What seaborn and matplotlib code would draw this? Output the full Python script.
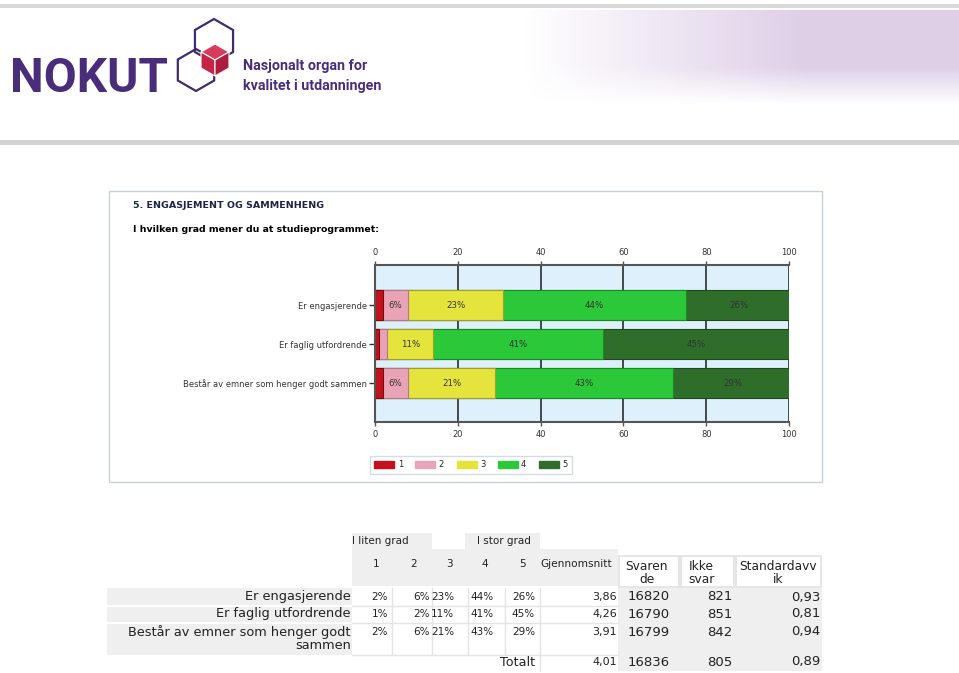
import textwrap
import numpy as np
import pandas as pd
import matplotlib
matplotlib.use("Agg")
import matplotlib.pyplot as plt
from matplotlib.patches import Rectangle, Polygon, Patch
import seaborn as sns

# Dados do gráfico
items = ["Er engasjerende", "Er faglig utfordrende", "Består av emner som henger godt sammen"]
levels = ["1", "2", "3", "4", "5"]
pct_1 = [2, 1, 2]
pct_2 = [6, 2, 6]
pct_3 = [23, 11, 21]
pct_4 = [44, 41, 43]
pct_5 = [26, 45, 29]
mean = [3.86, 4.26, 3.91]
n_svar = [16820, 16790, 16799]
n_ikke = [821, 851, 842]
std = [0.93, 0.81, 0.94]
tot_mean, tot_svar, tot_ikke, tot_std = 4.01, 16836, 805, 0.89
x_ticks = [0, 20, 40, 60, 80, 100]

bar_colors = ["#C4121C", "#E9A3B6", "#E4E43C", "#2BC83A", "#2E6E2A"]
edge_colors = ["#7A0A10", "#B57888", "#A0A024", "#1A8A25", "#1C4A1A"]
purple = "#4A2D7A"

W, H = 959, 673
sns.set_style("white")
plt.rcParams["font.family"] = ["DejaVu Sans"]

fig = plt.figure(figsize=(W / 100, H / 100), dpi=100)
bg = fig.add_axes([0, 0, 1, 1])
bg.set_xlim(0, W)
bg.set_ylim(H, 0)
bg.axis("off")
renderer = fig.canvas.get_renderer()


def fit_width(t, width_px):
    w = t.get_window_extent(renderer).width
    if w > width_px:
        t.set_fontsize(t.get_fontsize() * width_px / w)


def rect(x0, y0, x1, y1, **kw):
    bg.add_patch(Rectangle((x0, y0), x1 - x0, y1 - y0, **kw))


# --- cabeçalho da página ---
rect(0, 4, W, 8, color="#D9D9D9", lw=0)
rect(0, 140, W, 145, color="#D3D3D3", lw=0)
gx = np.linspace(0, 1, 200)
gy = np.linspace(0, 1, 60)
alpha = np.clip(gx[None, :] * 1.1 - 0.1, 0, 0.65) * np.clip((1 - gy[:, None]) * 2.5, 0, 1)
grad = np.zeros((60, 200, 4))
grad[..., 0], grad[..., 1], grad[..., 2] = 0.80, 0.71, 0.86
grad[..., 3] = alpha
bg.imshow(grad, extent=(480, W, 105, 10), aspect="auto", zorder=0)


def hexagon(cx, cy, r):
    ang = np.deg2rad(90 + 60 * np.arange(6))
    return np.column_stack([cx + r * np.cos(ang), cy - r * np.sin(ang)])


for cx, cy, r in [(214, 41, 22), (196, 70, 21)]:
    bg.add_patch(Polygon(hexagon(cx, cy, r), closed=True, fill=False, edgecolor="#3F2C6B", lw=1.6))
c = np.array([215, 60])
top, ur, lr, bot, ll, ul = c + [0, -16], c + [14, -8], c + [14, 8], c + [0, 16], c + [-14, 8], c + [-14, -8]
for pts, col in [([top, ur, c, ul], "#D63B5E"), ([ul, c, bot, ll], "#C42448"), ([c, ur, lr, bot], "#AE1C40")]:
    bg.add_patch(Polygon(pts, closed=True, facecolor=col, edgecolor="white", lw=0.8, zorder=3))

logo_font = ["Roboto", "DejaVu Sans"]
t = bg.text(10, 92, "NOKUT", fontsize=36, fontweight="bold", color=purple, family=logo_font, va="baseline")
fit_width(t, 158)
t = bg.text(243, 70, "Nasjonalt organ for", fontsize=11.5, fontweight="bold", color=purple, family=logo_font, va="baseline")
fit_width(t, 125)
t = bg.text(243, 90, "kvalitet i utdanningen", fontsize=11.5, fontweight="bold", color=purple, family=logo_font, va="baseline")
fit_width(t, 139)

# --- caixa do gráfico ---
rect(109, 191, 822, 482, facecolor="white", edgecolor="#C5D0DC", lw=1)
bg.text(133, 206, "5. ENGASJEMENT OG SAMMENHENG", fontsize=6.8, fontweight="bold", color="#1C2541", va="center")
t = bg.text(133, 229, "I hvilken grad mener du at studieprogrammet:", fontsize=7.5, fontweight="bold", color="black", va="center")
fit_width(t, 246)

ax = fig.add_axes([375 / W, 1 - 422 / H, (789 - 375) / W, (422 - 265) / H])
ax.set_facecolor("#DDF0FB")
df = pd.DataFrame({"1": pct_1, "2": pct_2, "3": pct_3, "4": pct_4, "5": pct_5}, index=items)
cum = df.cumsum(axis=1)
for lvl, col, ec in reversed(list(zip(levels, bar_colors, edge_colors))):
    sns.barplot(x=cum[lvl].values, y=items, orient="h", color=col, saturation=1,
                width=0.77, edgecolor=ec, linewidth=0.8, ax=ax)
for i, item in enumerate(items):
    for lvl in levels:
        v = df.loc[item, lvl]
        if v >= 5:
            ax.text(cum.loc[item, lvl] - v / 2, i, f"{v}%", ha="center", va="center",
                    fontsize=6.2, color="#333333")
ax.set_xlim(0, 100)
ax.set_ylim(3.0, -1.03)
ax.set_xticks(x_ticks)
ax.set_xlabel("")
ax.set_ylabel("")
ax.grid(axis="x", color="#1A1A1A", lw=1.1)
ax.set_axisbelow(True)
for s in ["top", "bottom", "left"]:
    ax.spines[s].set_color("#555555")
    ax.spines[s].set_linewidth(1.5)
ax.spines["right"].set_visible(False)
ax.tick_params(axis="x", top=True, labeltop=True, bottom=True, labelbottom=True,
               length=3, width=1, color="#555555", labelsize=6, labelcolor="#333333", pad=3)
ax.tick_params(axis="y", left=True, length=4, width=1, color="#333333", labelsize=6,
               labelcolor="#333333", pad=2)

handles = [Patch(facecolor=c_, edgecolor=c_) for c_ in bar_colors]
fig.legend(handles, levels, ncol=5, loc="upper left", bbox_to_anchor=(366 / W, 1 - 452 / H),
           frameon=True, fancybox=False, edgecolor="#C9D3DF", fontsize=6, handlelength=2.4,
           handleheight=0.9, handletextpad=0.4, columnspacing=1.5, borderpad=0.5)

# --- tabela ---
gray = "#EFEFEF"
rect(352, 533, 432, 549, color=gray, lw=0)
rect(465, 533, 540, 549, color=gray, lw=0)
rect(352, 549, 618, 586, color=gray, lw=0)
rect(618, 555, 822, 588, color="#E6E6E6", lw=0)
for x0, x1 in [(620, 678), (682, 733), (737, 820)]:
    rect(x0, 557, x1, 586, color="white", lw=0)
rect(107, 588, 352, 655, color=gray, lw=0)
rect(618, 588, 822, 671, color=gray, lw=0)
for yl in [606, 623]:
    bg.plot([107, 352], [yl, yl], color="white", lw=1.5)
    bg.plot([352, 618], [yl, yl], color="#E4E4E4", lw=1)
for xl in [392, 432, 468, 505, 540]:
    bg.plot([xl, xl], [588, 655], color="#E4E4E4", lw=1)
bg.plot([352, 618], [655, 655], color="#E4E4E4", lw=1)
bg.plot([540, 540], [655, 671], color="#E4E4E4", lw=1)

bg.text(352, 541, "I liten grad", fontsize=7.5, color="#222222", va="center")
bg.text(477, 541, "I stor grad", fontsize=7.5, color="#222222", va="center")
for xc, lvl in zip([376, 414, 449, 485, 522], levels):
    bg.text(xc, 564, lvl, fontsize=7.5, color="#222222", ha="center", va="center")
bg.text(540, 564, "Gjennomsnitt", fontsize=7.6, color="#222222", va="center")
for xc, lab in [(647, "Svaren\nde"), (701, "Ikke\nsvar"), (778, "Standardavv\nik")]:
    bg.text(xc, 573, lab, fontsize=8.8, color="#222222", ha="center", va="center", linespacing=1.0)

row_y = [597, 614, 632]
for i, item in enumerate(items):
    y = row_y[i]
    bg.text(351, y - 7, textwrap.fill(item, 31), fontsize=9.3, color="#222222", ha="right",
            va="top", multialignment="right", linespacing=1.0)
    for xr, col in zip([388, 430, 454, 494, 535], [pct_1, pct_2, pct_3, pct_4, pct_5]):
        bg.text(xr, y, f"{col[i]}%", fontsize=7.5, color="#222222", ha="right", va="center")
    bg.text(617, y, f"{mean[i]:.2f}".replace(".", ","), fontsize=8, color="#222222", ha="right", va="center")
    bg.text(670, y, f"{n_svar[i]}", fontsize=9.5, color="#222222", ha="right", va="center")
    bg.text(732, y, f"{n_ikke[i]}", fontsize=9.5, color="#222222", ha="right", va="center")
    bg.text(820, y, f"{std[i]:.2f}".replace(".", ","), fontsize=9.5, color="#222222", ha="right", va="center")

bg.text(535, 662, "Totalt", fontsize=9.2, color="#222222", ha="right", va="center")
bg.text(617, 662, f"{tot_mean:.2f}".replace(".", ","), fontsize=8, color="#222222", ha="right", va="center")
bg.text(670, 662, f"{tot_svar}", fontsize=9.5, color="#222222", ha="right", va="center")
bg.text(732, 662, f"{tot_ikke}", fontsize=9.5, color="#222222", ha="right", va="center")
bg.text(820, 662, f"{tot_std:.2f}".replace(".", ","), fontsize=9.5, color="#222222", ha="right", va="center")

fig.savefig("out.png", dpi=100)
plt.close(fig)
